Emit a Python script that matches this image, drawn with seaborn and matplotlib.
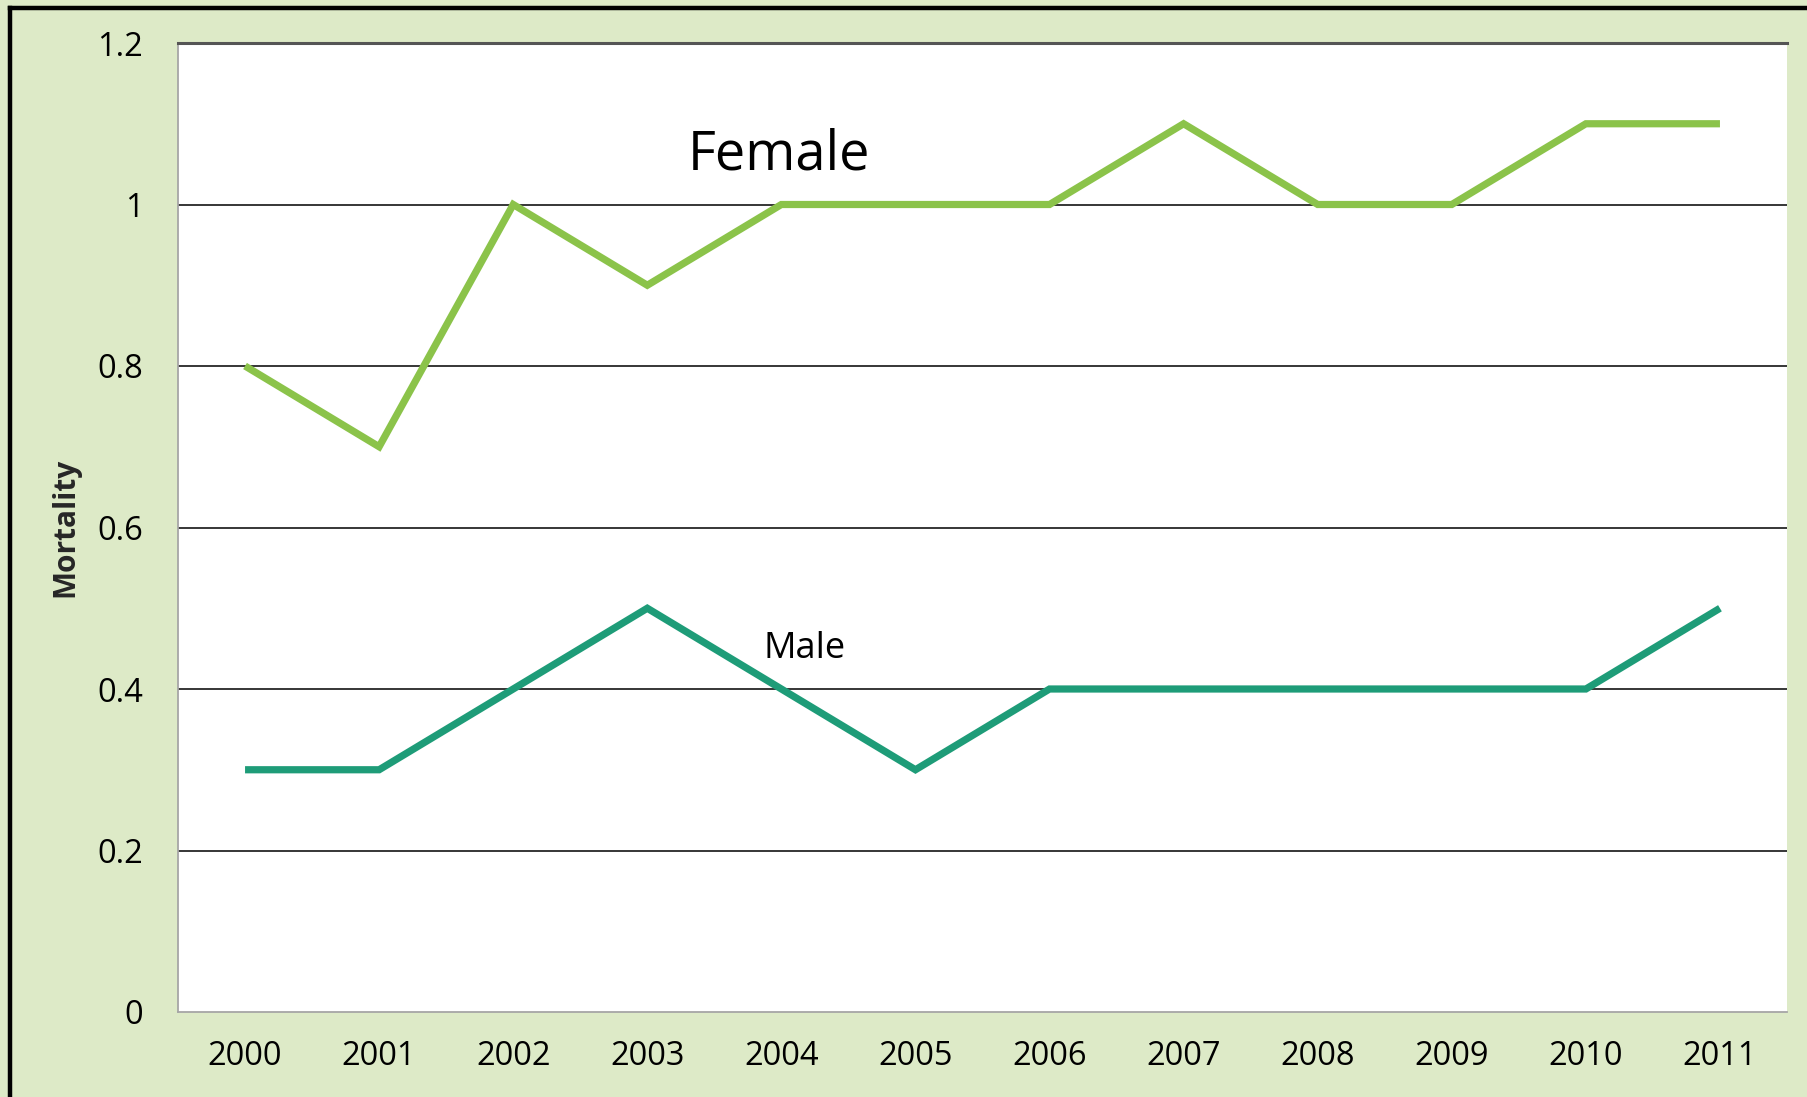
import matplotlib
matplotlib.use("Agg")
import matplotlib.pyplot as plt
import seaborn as sns
import pandas as pd
from matplotlib.lines import Line2D

years = ["2000", "2001", "2002", "2003", "2004", "2005",
         "2006", "2007", "2008", "2009", "2010", "2011"]
female = [0.8, 0.7, 1.0, 0.9, 1.0, 1.0, 1.0, 1.1, 1.0, 1.0, 1.1, 1.1]
male = [0.3, 0.3, 0.4, 0.5, 0.4, 0.3, 0.4, 0.4, 0.4, 0.4, 0.4, 0.5]
y_ticks = [0, 0.2, 0.4, 0.6, 0.8, 1.0, 1.2]
y_tick_labels = ["0", "0.2", "0.4", "0.6", "0.8", "1", "1.2"]

df = pd.DataFrame({
    "Year": years * 2,
    "Mortality": female + male,
    "Sex": ["Female"] * len(years) + ["Male"] * len(years),
})

sns.set_theme(style="white")
plt.rcParams["font.family"] = ["Open Sans", "DejaVu Sans"]

bg = "#DDEAC7"
fig = plt.figure(figsize=(18.08, 10.97), dpi=100, facecolor=bg)
ax = fig.add_axes([178 / 1808, 1 - 1012 / 1097, (1787 - 178) / 1808, (1012 - 43) / 1097])
ax.set_facecolor("white")

ax.set_ylim(0, 1.2)
ax.set_xlim(-0.5, len(years) - 0.5)
for yv in y_ticks[1:-1]:
    ax.axhline(yv, color="black", lw=1.1, zorder=1)

sns.lineplot(data=df, x="Year", y="Mortality", hue="Sex",
             palette={"Female": "#8BC34A", "Male": "#1E9C78"},
             linewidth=5.2, legend=False, ax=ax, zorder=3, sort=False)
for ln in ax.lines:
    ln.set_solid_joinstyle("miter")
    ln.set_solid_capstyle("butt")

ax.set_yticks(y_ticks)
ax.set_yticklabels(y_tick_labels)
ax.tick_params(axis="y", labelsize=23.5, pad=25, length=0, colors="black")
ax.tick_params(axis="x", labelsize=23.5, pad=20, length=0, colors="black")
ax.set_xlabel("")
ax.set_ylabel("Mortality", fontsize=21.5, fontweight="bold", labelpad=12)

ax.spines["right"].set_visible(False)
ax.spines["top"].set_color("#555555")
ax.spines["top"].set_linewidth(2.2)
ax.spines["left"].set_color("#A6A6A6")
ax.spines["left"].set_linewidth(1.3)
ax.spines["bottom"].set_color("#A6A6A6")
ax.spines["bottom"].set_linewidth(1.3)

ax.text(3.3, 1.043, "Female", fontsize=39, color="black", ha="left", va="baseline")
ax.text(3.87, 0.438, "Male", fontsize=26, color="black", ha="left", va="baseline")

# outer chart border (left and top)
fig.add_artist(Line2D([9.5 / 1808, 9.5 / 1808], [0, 1 - 8 / 1097], transform=fig.transFigure,
                      color="black", lw=3.2, solid_capstyle="projecting"))
fig.add_artist(Line2D([9.5 / 1808, 1], [1 - 8 / 1097, 1 - 8 / 1097], transform=fig.transFigure,
                      color="black", lw=3.2, solid_capstyle="projecting"))

fig.savefig("out.png", dpi=100, facecolor=bg)
